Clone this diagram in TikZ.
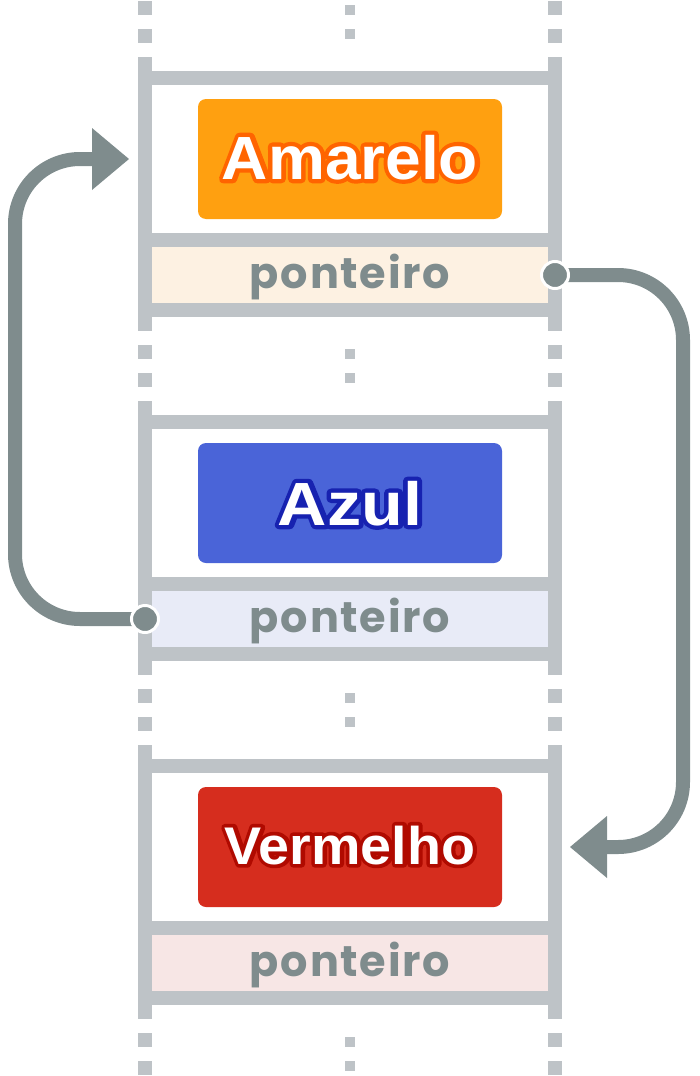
\documentclass[tikz,border=0pt]{standalone}
\usepackage{fontspec}
\setmainfont{Liberation Sans}
\newfontfamily\outlinefont{Liberation Sans}[UprightFont=* Bold, FakeBold=14]
\newfontfamily\ptrfont{Poppins}[LetterSpace=4]
\usetikzlibrary{backgrounds}
\definecolor{railgray}{HTML}{BEC3C7}
\definecolor{arrowgray}{HTML}{7F8C8D}
\definecolor{boxO}{HTML}{FFA010}
\definecolor{boxB}{HTML}{4A64D8}
\definecolor{boxR}{HTML}{D62D1E}
\definecolor{outO}{HTML}{FF6400}
\definecolor{outB}{HTML}{1722B0}
\definecolor{outR}{HTML}{B00A00}
\definecolor{fieldO}{HTML}{FDF1E2}
\definecolor{fieldB}{HTML}{E8EBF7}
\definecolor{fieldR}{HTML}{F7E6E5}
\newcommand{\outlined}[3]{\scalebox{#3}[1]{\rlap{\outlinefont\color{#1}#2}#2}}
\begin{document}
\begin{tikzpicture}[x=1pt,y=-1pt,
  rail/.style={fill=railgray},
  labelbox/.style={rounded corners=8pt, minimum width=304pt, minimum height=120pt, inner sep=0pt},
  fieldbox/.style={minimum width=396pt, minimum height=56pt, inner sep=0pt},
  ptrtext/.style={text=arrowgray, anchor=base, inner sep=0pt, font=\ptrfont\bfseries\fontsize{43}{43}\selectfont},
  labeltext/.style={text=white, anchor=base, inner sep=0pt},
  ptrdot/.style={circle, fill=arrowgray, draw=white, line width=3pt, minimum size=27pt, inner sep=0pt},
  conn/.style={draw=arrowgray, line width=14pt, rounded corners=65pt},
  tip/.style={fill=arrowgray}]
\useasboundingbox (0,0) rectangle (700,1076);
% rails, bars
\foreach \o in {0,344,688} {
  \fill[rail] (138,57+\o) rectangle (152,331+\o);
  \fill[rail] (548,57+\o) rectangle (562,331+\o);
  \fill[rail] (152,71+\o) rectangle (548,85+\o);
  \fill[rail] (152,233+\o) rectangle (548,247+\o);
  \fill[rail] (152,303+\o) rectangle (548,317+\o);
}
% dotted continuations
\foreach \y in {1,345,689,1033} {
  \fill[rail] (138,\y) rectangle (152,\y+14);
  \fill[rail] (138,\y+28) rectangle (152,\y+42);
  \fill[rail] (548,\y) rectangle (562,\y+14);
  \fill[rail] (548,\y+28) rectangle (562,\y+42);
  \fill[rail] (345,\y+4) rectangle (355,\y+14);
  \fill[rail] (345,\y+28) rectangle (355,\y+38);
}
% cells
\node[labelbox, fill=boxO] (box1) at (350,159) {};
\node[labelbox, fill=boxB] (box2) at (350,503) {};
\node[labelbox, fill=boxR] (box3) at (350,847) {};
\begin{scope}[line join=round, miter limit=1]
\node[labeltext, font=\bfseries\fontsize{61}{61}\selectfont] (lab1) at (350,179) {\outlined{outO}{Amarelo}{1.05}};
\node[labeltext, font=\bfseries\fontsize{61}{61}\selectfont] (lab2) at (350,525) {\outlined{outB}{Azul}{1.12}};
\node[labeltext, font=\bfseries\fontsize{53}{53}\selectfont] (lab3) at (350,864) {\outlined{outR}{Vermelho}{1.05}};
\end{scope}
\node[fieldbox, fill=fieldO] (field1) at (350,275) {};
\node[fieldbox, fill=fieldB] (field2) at (350,619) {};
\node[fieldbox, fill=fieldR] (field3) at (350,963) {};
\node[ptrtext] (ptr1) at (350,288) {ponteiro};
\node[ptrtext] (ptr2) at (350,632) {ponteiro};
\node[ptrtext] (ptr3) at (350,976) {ponteiro};
% pointer dots
\node[ptrdot] (dot1) at (555,275) {};
\node[ptrdot] (dot2) at (145,619) {};
\coordinate (end1) at (607,847);
\coordinate (end2) at (92,159);
\begin{scope}[on background layer]
  \draw[conn] (dot1.center) -- (683,275) -- (683,847) -- (end1);
  \draw[conn] (dot2.center) -- (15,619) -- (15,159) -- (end2);
\end{scope}
\fill[tip] (end1) ++(0,-31) -- (570,847) -- ++(37,31) -- cycle;
\fill[tip] (end2) ++(0,-31) -- (129,159) -- ++(-37,31) -- cycle;
\end{tikzpicture}
\end{document}
